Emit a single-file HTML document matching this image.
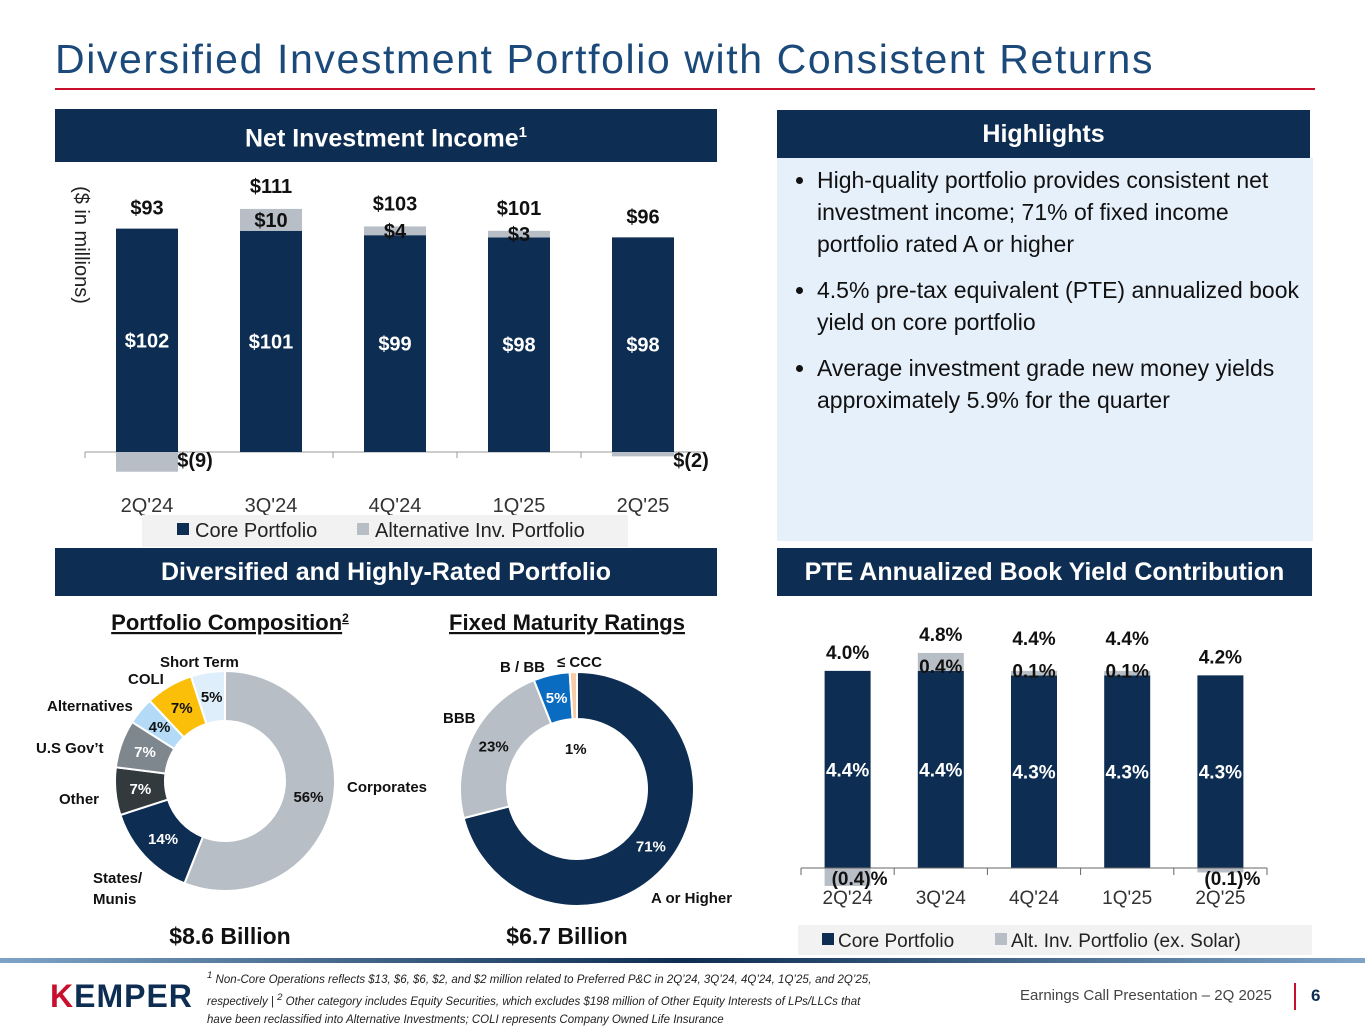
<!DOCTYPE html>
<html><head><meta charset="utf-8">
<style>
body{margin:0;width:1365px;height:1024px;background:#fff;font-family:"Liberation Sans",sans-serif;position:relative;overflow:hidden}
.abs{position:absolute}
.hdr{position:absolute;background:#0d2d52;color:#fff;font-weight:bold;font-size:25px;text-align:center;line-height:48px}
</style></head><body>
<div class="abs" style="left:55px;top:36px;font-size:41px;letter-spacing:1.6px;color:#1b4a7a">Diversified Investment Portfolio with Consistent Returns</div>
<div class="abs" style="left:55px;top:88px;width:1260px;height:2px;background:#c8102e"></div>

<div class="hdr" style="left:55px;top:109px;width:662px">Net Investment Income<sup style="font-size:15px">1</sup></div>
<div class="hdr" style="left:777px;top:110px;width:533px">Highlights</div>
<div class="abs" style="left:777px;top:158px;width:536px;height:383px;background:#e6f0fa"></div>
<ul class="abs" style="left:777px;top:150px;width:490px;margin:0;padding-left:40px;font-size:23px;line-height:32px;color:#111">
<li style="margin-top:14px">High-quality portfolio provides consistent net investment income; 71% of fixed income portfolio rated A or higher</li>
<li style="margin-top:14px">4.5% pre-tax equivalent (PTE) annualized book yield on core portfolio</li>
<li style="margin-top:14px">Average investment grade new money yields approximately 5.9% for the quarter</li>
</ul>
<div class="hdr" style="left:55px;top:548px;width:662px">Diversified and Highly-Rated Portfolio</div>
<div class="hdr" style="left:777px;top:548px;width:535px">PTE Annualized Book Yield Contribution</div>

<svg class="abs" style="left:0;top:0" width="1365" height="1024" id="svg" font-family="Liberation Sans, sans-serif">
<text x="75" y="245" transform="rotate(90 75 245)" font-size="20" fill="#222" text-anchor="middle">($ in millions)</text>
<g id="nii"></g><g id="pte"></g><g id="d1"></g><g id="d2"></g>
<rect x="142" y="515" width="486" height="32" fill="#f2f2f2"/>
<rect x="177" y="523" width="12" height="12" fill="#0d2d52"/><text x="195" y="537" font-size="20" fill="#222">Core Portfolio</text>
<rect x="357" y="523" width="12" height="12" fill="#b8bec5"/><text x="375" y="537" font-size="20" fill="#222">Alternative Inv. Portfolio</text>
<rect x="798" y="925" width="514" height="30" fill="#f2f2f2"/>
<rect x="822" y="933" width="12" height="12" fill="#0d2d52"/><text x="838" y="947" font-size="19" fill="#222">Core Portfolio</text>
<rect x="995" y="933" width="12" height="12" fill="#b8bec5"/><text x="1011" y="947" font-size="19" fill="#222">Alt. Inv. Portfolio (ex. Solar)</text>
<text x="230" y="630" font-size="22" font-weight="bold" fill="#111" text-anchor="middle" text-decoration="underline">Portfolio Composition<tspan font-size="12" dy="-8">2</tspan></text>
<text x="567" y="630" font-size="22" font-weight="bold" fill="#111" text-anchor="middle" text-decoration="underline">Fixed Maturity Ratings</text>
<text x="230" y="944" font-size="23" font-weight="bold" fill="#111" text-anchor="middle">$8.6 Billion</text>
<text x="567" y="944" font-size="23" font-weight="bold" fill="#111" text-anchor="middle">$6.7 Billion</text>
<defs><linearGradient id="gr" x1="0" x2="1"><stop offset="0" stop-color="#7fa3c8"/><stop offset="0.5" stop-color="#0d2d52"/><stop offset="1" stop-color="#7fa3c8"/></linearGradient></defs>
<rect x="0" y="958" width="1365" height="5" fill="url(#gr)"/>
<line x1="1295" y1="983" x2="1295" y2="1010" stroke="#c8102e" stroke-width="2"/>
</svg>
<div class="abs" style="left:50px;top:978px;font-size:32px;font-weight:bold;color:#0d2d52;letter-spacing:1px"><span style="color:#c8102e">K</span>EMPER</div>
<div class="abs" style="left:207px;top:967px;width:800px;font-size:11.5px;font-style:italic;line-height:18px;color:#222;white-space:nowrap"><sup>1</sup> Non-Core Operations reflects $13, $6, $6, $2, and $2 million related to Preferred P&amp;C in 2Q’24, 3Q’24, 4Q’24, 1Q’25, and 2Q’25,<br>respectively | <sup>2</sup> Other category includes Equity Securities, which excludes $198 million of Other Equity Interests of LPs/LLCs that<br>have been reclassified into Alternative Investments; COLI represents Company Owned Life Insurance</div>
<div class="abs" style="left:1020px;top:987px;font-size:15px;color:#444">Earnings Call Presentation – 2Q 2025</div>
<div class="abs" style="left:1311px;top:986px;font-size:17px;font-weight:bold;color:#0d2d52">6</div>

<script>
const NS='http://www.w3.org/2000/svg';
function mk(p,t,a,txt){const e=document.createElementNS(NS,t);for(const k in a)e.setAttribute(k,a[k]);if(txt!==undefined)e.textContent=txt;p.appendChild(e);return e;}
// NII chart
const niiCats=["2Q'24","3Q'24","4Q'24","1Q'25","2Q'25"];
const niiCore=[102,101,99,98,98];
const niiAlt=[-9,10,4,3,-2];
const niiTotal=[93,111,103,101,96];
const niiCoreLbl=["$102","$101","$99","$98","$98"];
const niiAltLbl=["$(9)","$10","$4","$3","$(2)"];
const niiTotLbl=["$93","$111","$103","$101","$96"];
(function(){
const g=document.getElementById('nii');const base=452,sc=2.19,x0=85,cw=124,bw=62;
const y=v=>base-v*sc, cx=i=>x0+cw*(i+0.5);
mk(g,'line',{x1:x0,y1:base,x2:x0+cw*5,y2:base,stroke:'#999'});
for(let i=0;i<=5;i++)mk(g,'line',{x1:x0+cw*i,y1:base,x2:x0+cw*i,y2:base+6,stroke:'#999'});
niiCats.forEach((c,i)=>{
 const b=mk(g,'rect',{x:cx(i)-bw/2,y:y(niiCore[i]),width:bw,height:niiCore[i]*sc,fill:'#0d2d52'});
 
 const a=niiAlt[i];const ay=a>=0?y(niiCore[i]+a):base;
 const ab=mk(g,'rect',{x:cx(i)-bw/2,y:ay,width:bw,height:Math.abs(a)*sc,fill:'#b8bec5'});
 
 mk(g,'text',{x:cx(i),y:y(niiCore[i]/2)+7,'font-size':20,'font-weight':'bold',fill:'#fff','text-anchor':'middle'},niiCoreLbl[i]);
 if(a>=0)mk(g,'text',{x:cx(i),y:y(niiCore[i]+a/2)+7,'font-size':20,'font-weight':'bold',fill:'#111','text-anchor':'middle'},niiAltLbl[i]);
 else mk(g,'text',{x:cx(i)+48,y:base+15,'font-size':20,'font-weight':'bold',fill:'#111','text-anchor':'middle'},niiAltLbl[i]);
 const top=Math.max(niiCore[i],niiCore[i]+a);
 mk(g,'text',{x:cx(i),y:y(top)-(a>0?16:14),'font-size':20,'font-weight':'bold',fill:'#111','text-anchor':'middle'},niiTotLbl[i]);
 mk(g,'text',{x:cx(i),y:512,'font-size':20,fill:'#333','text-anchor':'middle'},c);
});
})();
// PTE chart
const pteCats=["2Q'24","3Q'24","4Q'24","1Q'25","2Q'25"];
const pteCore=[4.4,4.4,4.3,4.3,4.3];
const pteAlt=[-0.4,0.4,0.1,0.1,-0.1];
const pteTotLbl=["4.0%","4.8%","4.4%","4.4%","4.2%"];
const pteAltLbl=["(0.4)%","0.4%","0.1%","0.1%","(0.1)%"];
(function(){
const g=document.getElementById('pte');const base=868,sc=44.8,x0=801,cw=93.2,bw=46;
const y=v=>base-v*sc, cx=i=>x0+cw*(i+0.5);
pteCats.forEach((c,i)=>{
 const b=mk(g,'rect',{x:cx(i)-bw/2,y:y(pteCore[i]),width:bw,height:pteCore[i]*sc,fill:'#0d2d52'});
 
 const a=pteAlt[i];const ay=a>=0?y(pteCore[i]+a):base;
 const ab=mk(g,'rect',{x:cx(i)-bw/2,y:ay,width:bw,height:Math.abs(a)*sc,fill:'#b8bec5'});
 
 mk(g,'text',{x:cx(i),y:y(pteCore[i]/2)+7,'font-size':19,'font-weight':'bold',fill:'#fff','text-anchor':'middle'},pteCore[i].toFixed(1)+'%');
 if(a>=0){mk(g,'text',{x:cx(i),y:y(pteCore[i])+2,'font-size':19,'font-weight':'bold',fill:'#111','text-anchor':'middle'},pteAltLbl[i]);
  mk(g,'text',{x:cx(i),y:y(pteCore[i]+a)-(a>0.2?12:26),'font-size':19,'font-weight':'bold',fill:'#111','text-anchor':'middle'},pteTotLbl[i]);}
 else{mk(g,'text',{x:cx(i)+12,y:base+17,'font-size':19,'font-weight':'bold',fill:'#111','text-anchor':'middle'},pteAltLbl[i]);
  mk(g,'text',{x:cx(i),y:y(pteCore[i])-12,'font-size':19,'font-weight':'bold',fill:'#111','text-anchor':'middle'},pteTotLbl[i]);}
 mk(g,'text',{x:cx(i),y:904,'font-size':19,fill:'#333','text-anchor':'middle'},c);
});
mk(g,'line',{x1:x0,y1:base,x2:x0+cw*5,y2:base,stroke:'#666'});
for(let i=0;i<=5;i++)mk(g,'line',{x1:x0+cw*i,y1:base,x2:x0+cw*i,y2:base+7,stroke:'#666'});
})();
// Donuts
const compCats=["Corporates","States/ Munis","Other","U.S Gov’t","Alternatives","COLI","Short Term"];
const compVals=[56,14,7,7,4,7,5];
const compColors=['#b8bec5','#0d2d52','#333a3e','#7f878e','#b3dbf7','#fbbf0a','#deeefb'];
const ratCats=["A or Higher","BBB","B / BB","≤ CCC"];
const ratVals=[71,23,5,1];
const ratColors=['#0d2d52','#b8bec5','#0a6cc0','#f8cba8'];
function donut(id,cx,cy,R,r,vals,cols,txtCols,nm,lblR){
 const g=document.getElementById(id);const tot=vals.reduce((a,b)=>a+b,0);let a0=-Math.PI/2;
 vals.forEach((v,i)=>{const a1=a0+v/tot*2*Math.PI;const lg=(a1-a0)>Math.PI?1:0;
  const p=(rr,a)=>[cx+rr*Math.cos(a),cy+rr*Math.sin(a)];
  const [x1,y1]=p(R,a0),[x2,y2]=p(R,a1),[x3,y3]=p(r,a1),[x4,y4]=p(r,a0);
  const s=mk(g,'path',{d:`M${x1},${y1}A${R},${R} 0 ${lg} 1 ${x2},${y2}L${x3},${y3}A${r},${r} 0 ${lg} 0 ${x4},${y4}Z`,fill:cols[i],stroke:'#fff','stroke-width':2});
  
  const am=(a0+a1)/2;const [tx,ty]=p(lblR[i]||(R+r)/2,am);
  mk(g,'text',{x:tx,y:ty+5,'font-size':15,'font-weight':'bold',fill:txtCols[i],'text-anchor':'middle'},v+'%');
  a0=a1;});
}
donut('d1',225,781,110,60,compVals,compColors,['#111','#fff','#fff','#fff','#111','#111','#111'],'composition',[]);
donut('d2',577,789,117,70,ratVals,ratColors,['#fff','#111','#fff','#111'],'ratings',[0,0,0,40]);
const d1=document.getElementById('d1'),d2=document.getElementById('d2');
[['Corporates',347,792],['States/',93,883],['Munis',93,904],['Other',59,804],['U.S Gov’t',36,753],['Alternatives',47,711],['COLI',128,684],['Short Term',160,667]].forEach(t=>mk(d1,'text',{x:t[1],y:t[2],'font-size':15,'font-weight':'bold',fill:'#111'},t[0]));
[['A or Higher',651,903],['BBB',443,723],['B / BB',500,672],['≤ CCC',557,667]].forEach(t=>mk(d2,'text',{x:t[1],y:t[2],'font-size':15,'font-weight':'bold',fill:'#111'},t[0]));
</script>
</body></html>
